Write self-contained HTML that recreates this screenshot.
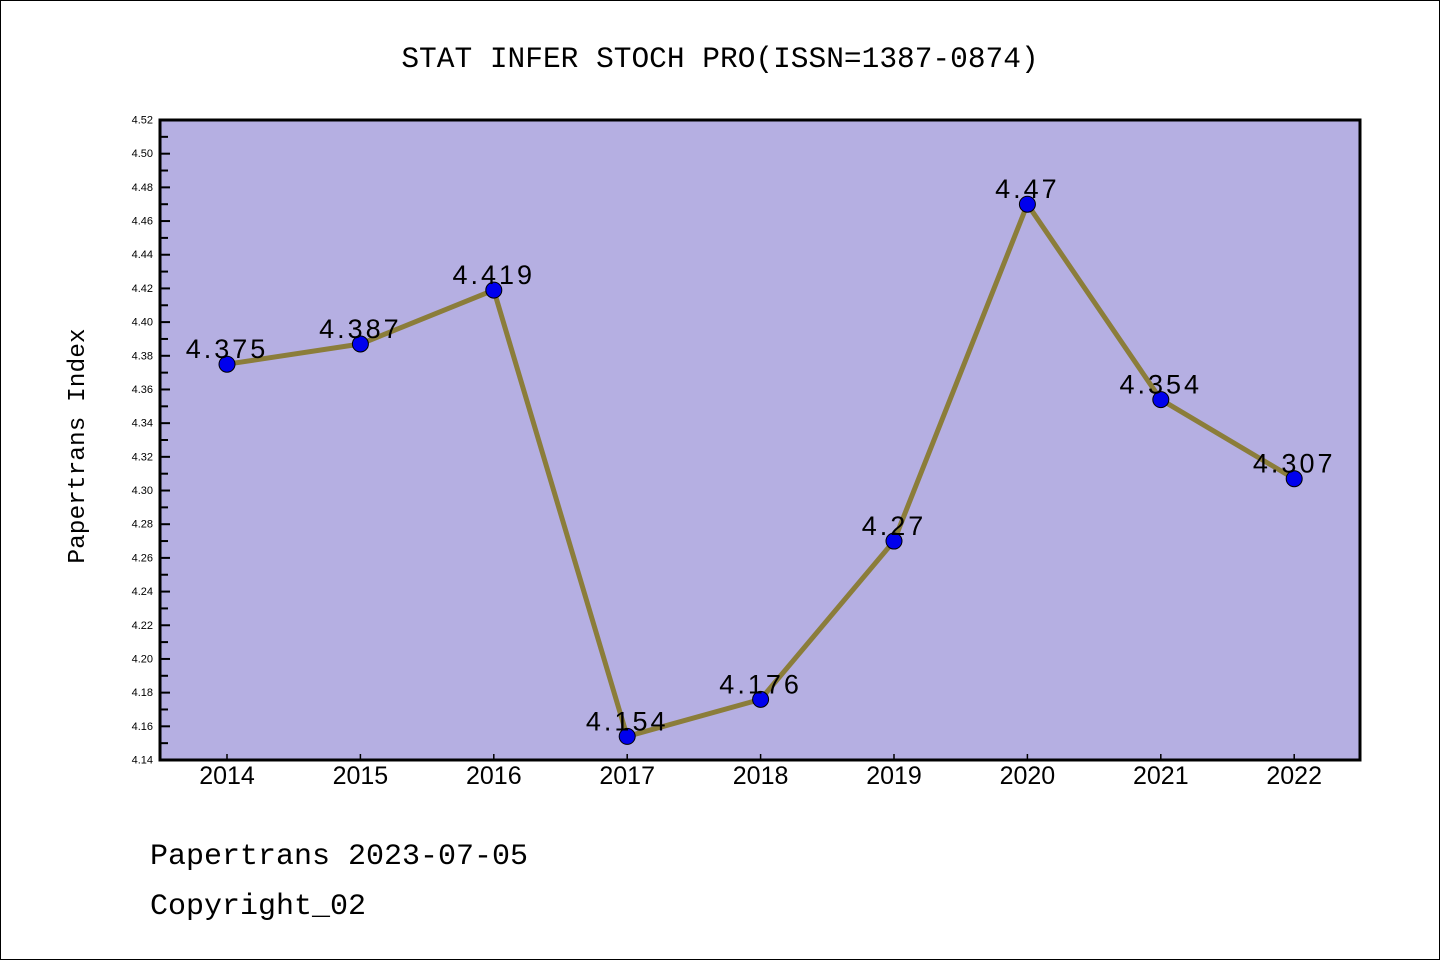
<!DOCTYPE html>
<html><head><meta charset="utf-8"><style>
html,body{margin:0;padding:0;background:#fff;}
svg{display:block;}
</style></head><body>
<svg id="chart" width="1440" height="960" xmlns="http://www.w3.org/2000/svg">
<rect x="0.5" y="0.5" width="1439" height="959" fill="#fff" stroke="#000" stroke-width="1"/>
<text x="720" y="67" text-anchor="middle" font-family="Liberation Mono, monospace" font-size="29.5" fill="#000">STAT INFER STOCH PRO(ISSN=1387-0874)</text>
<rect x="160" y="120" width="1200" height="640" fill="#b5afe2"/>
<g id="axes"></g>
<g id="marks"></g>
<rect x="160" y="120" width="1200" height="640" fill="none" stroke="#000" stroke-width="3"/>
<text transform="translate(84,446) rotate(-90)" text-anchor="middle" font-family="Liberation Mono, monospace" font-size="24.5" fill="#000">Papertrans Index</text>
<text x="150" y="864" font-family="Liberation Mono, monospace" font-size="30" fill="#000">Papertrans 2023-07-05</text>
<text x="150" y="914" font-family="Liberation Mono, monospace" font-size="30" fill="#000">Copyright_02</text>
</svg>
<script>
const years = ["2014","2015","2016","2017","2018","2019","2020","2021","2022"];
const values = [4.375,4.387,4.419,4.154,4.176,4.27,4.47,4.354,4.307];
const valueLabels = ["4.375","4.387","4.419","4.154","4.176","4.27","4.47","4.354","4.307"];
const yTicks = ["4.14","4.16","4.18","4.20","4.22","4.24","4.26","4.28","4.30","4.32","4.34","4.36","4.38","4.40","4.42","4.44","4.46","4.48","4.50","4.52"];
const NS="http://www.w3.org/2000/svg";
const yMin=4.14,yMax=4.52,plotTop=120,plotBot=760;
function ys(v){return plotBot-(v-yMin)/(yMax-yMin)*(plotBot-plotTop);}
function xs(i){return 227+i*133.4;}
function mk(t,a,p){const e=document.createElementNS(NS,t);for(const k in a)e.setAttribute(k,a[k]);p.appendChild(e);return e;}
const axesG=document.getElementById('axes'),marksG=document.getElementById('marks');
yTicks.forEach((t,i)=>{const v=parseFloat(t),y=ys(v);
 const ln=mk('line',{x1:160,x2:170,y1:y,y2:y,stroke:'#000','stroke-width':2},axesG);
 
 
 const tx=mk('text',{x:153,y:y+3.5,'text-anchor':'end','font-family':'Liberation Sans, sans-serif','font-size':11,fill:'#000'},axesG);
 tx.textContent=t;
 
 
 if(i<yTicks.length-1){const ym=ys(v+0.01);
  const m=mk('line',{x1:160,x2:168,y1:ym,y2:ym,stroke:'#000','stroke-width':2},axesG);
  
  }
});
years.forEach((yr,i)=>{const x=xs(i);
 const ln=mk('line',{x1:x,x2:x,y1:plotBot,y2:plotBot-6,stroke:'#000','stroke-width':1.5},axesG);
 
 
 const tx=mk('text',{x:x,y:784,'text-anchor':'middle','font-family':'Liberation Sans, sans-serif','font-size':25,fill:'#000'},axesG);
 tx.textContent=yr;
 
 
});
const pl=mk('polyline',{points:values.map((v,i)=>xs(i)+','+ys(v)).join(' '),fill:'none',stroke:'#8b7d3a','stroke-width':5,'stroke-linejoin':'round'},marksG);


values.forEach((v,i)=>{
 const c=mk('circle',{cx:xs(i),cy:ys(v),r:8,fill:'#0000ee',stroke:'#000','stroke-width':1},marksG);
 
 
 const tx=mk('text',{x:xs(i),y:ys(v)-6,'text-anchor':'middle','font-family':'Liberation Sans, sans-serif','font-size':27,'letter-spacing':'3',fill:'#000'},marksG);
 tx.textContent=valueLabels[i];
 
 
});
</script>
</body></html>
